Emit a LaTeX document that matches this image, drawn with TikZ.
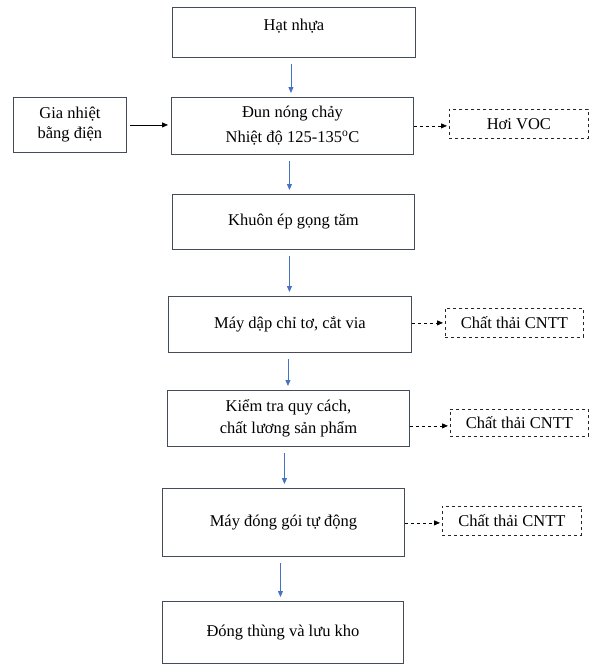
\documentclass[tikz,border=0pt]{standalone}
\usepackage{fontspec}
\setmainfont{Liberation Serif}
\usetikzlibrary{arrows.meta}
\definecolor{boxline}{RGB}{68,76,90}
\definecolor{flowblue}{RGB}{68,114,196}
\begin{document}
\begin{tikzpicture}[x=1pt,y=1pt,font=\fontsize{16.5}{20}\selectfont,
        stage/.style={draw=boxline,line width=0.9pt,align=center,inner sep=0pt,anchor=north west},
        waste/.style={draw=black!85,dashed,line width=0.8pt,inner sep=0pt,anchor=north west},
        flow/.style={draw=flowblue,line width=0.8pt,-{Triangle[length=6pt,width=5pt]},shorten <=6pt,shorten >=4pt},
        heatflow/.style={line width=0.8pt,-{Triangle[length=6pt,width=5pt]},shorten <=3pt,shorten >=3pt},
        wasteflow/.style={dashed,line width=0.8pt,-{Triangle[length=6pt,width=5pt]},shorten >=2pt}]
            \useasboundingbox (0,0) rectangle (595,-669);
            % main line
            \node[stage,minimum width=243pt,text height=23pt,text depth=27pt] (hat) at (172,-7) {Hạt nhựa};
            \node[stage,minimum width=242pt,minimum height=57pt] (dun) at (171,-97)
                {Đun nóng chảy\\[5pt]Nhiệt độ 125-135\textsuperscript{o}C};
            \node[stage,minimum width=242pt,minimum height=55pt] (khuon) at (172,-194) {Khuôn ép gọng tăm};
            \node[stage,minimum width=243pt,minimum height=56pt] (dap) at (168,-296) {Máy dập chỉ tơ, cắt via};
            \node[stage,minimum width=242pt,minimum height=56pt] (kiemtra) at (167,-390)
                {Kiểm tra quy cách,\\[2pt]chất lương sản phẩm};
            \node[stage,minimum width=242pt,minimum height=68pt] (donggoi) at (162,-488) {Máy đóng gói tự động};
            \node[stage,minimum width=241pt,minimum height=62pt] (dongthung) at (162,-601) {Đóng thùng và lưu kho};
            % input and wastes
            \node[stage,minimum width=113pt,minimum height=55pt] (gianhiet) at (13,-97) {Gia nhiệt\\bằng điện};
            \node[waste,minimum width=139pt,minimum height=29pt] (voc) at (449,-109) {Hơi VOC};
            \node[waste,minimum width=138pt,minimum height=29pt] (ct1) at (445,-308) {Chất thải CNTT};
            \node[waste,minimum width=138pt,minimum height=27pt] (ct2) at (450,-409) {Chất thải CNTT};
            \node[waste,minimum width=139pt,minimum height=29pt] (ct3) at (442,-506) {Chất thải CNTT};
            % arrows
            \draw[flow] ([xshift=-3pt]hat.south) -- ([xshift=-3pt]hat.south |- dun.north);
            \draw[flow] ([xshift=-3pt]dun.south) -- ([xshift=-3pt]dun.south |- khuon.north);
            \draw[flow] ([xshift=-4pt]khuon.south) -- ([xshift=-4pt]khuon.south |- dap.north);
            \draw[flow] ([xshift=-2pt]dap.south) -- ([xshift=-2pt]dap.south |- kiemtra.north);
            \draw[flow] ([xshift=-4pt]kiemtra.south) -- ([xshift=-4pt]kiemtra.south |- donggoi.north);
            \draw[flow] ([xshift=-3pt]donggoi.south) -- ([xshift=-3pt]donggoi.south |- dongthung.north);
            \draw[heatflow] (gianhiet) -- (gianhiet -| dun.west);
            \draw[wasteflow] ([yshift=-2pt]dun.east |- voc.west) -- ([yshift=-2pt]voc.west);
            \draw[wasteflow] (dap.east |- ct1.west) -- (ct1.west);
            \draw[wasteflow] ([yshift=-3pt]kiemtra.east |- ct2.west) -- ([yshift=-3pt]ct2.west);
            \draw[wasteflow] ([yshift=-2pt]donggoi.east |- ct3.west) -- ([yshift=-2pt]ct3.west);
        \end{tikzpicture}
\end{document}
